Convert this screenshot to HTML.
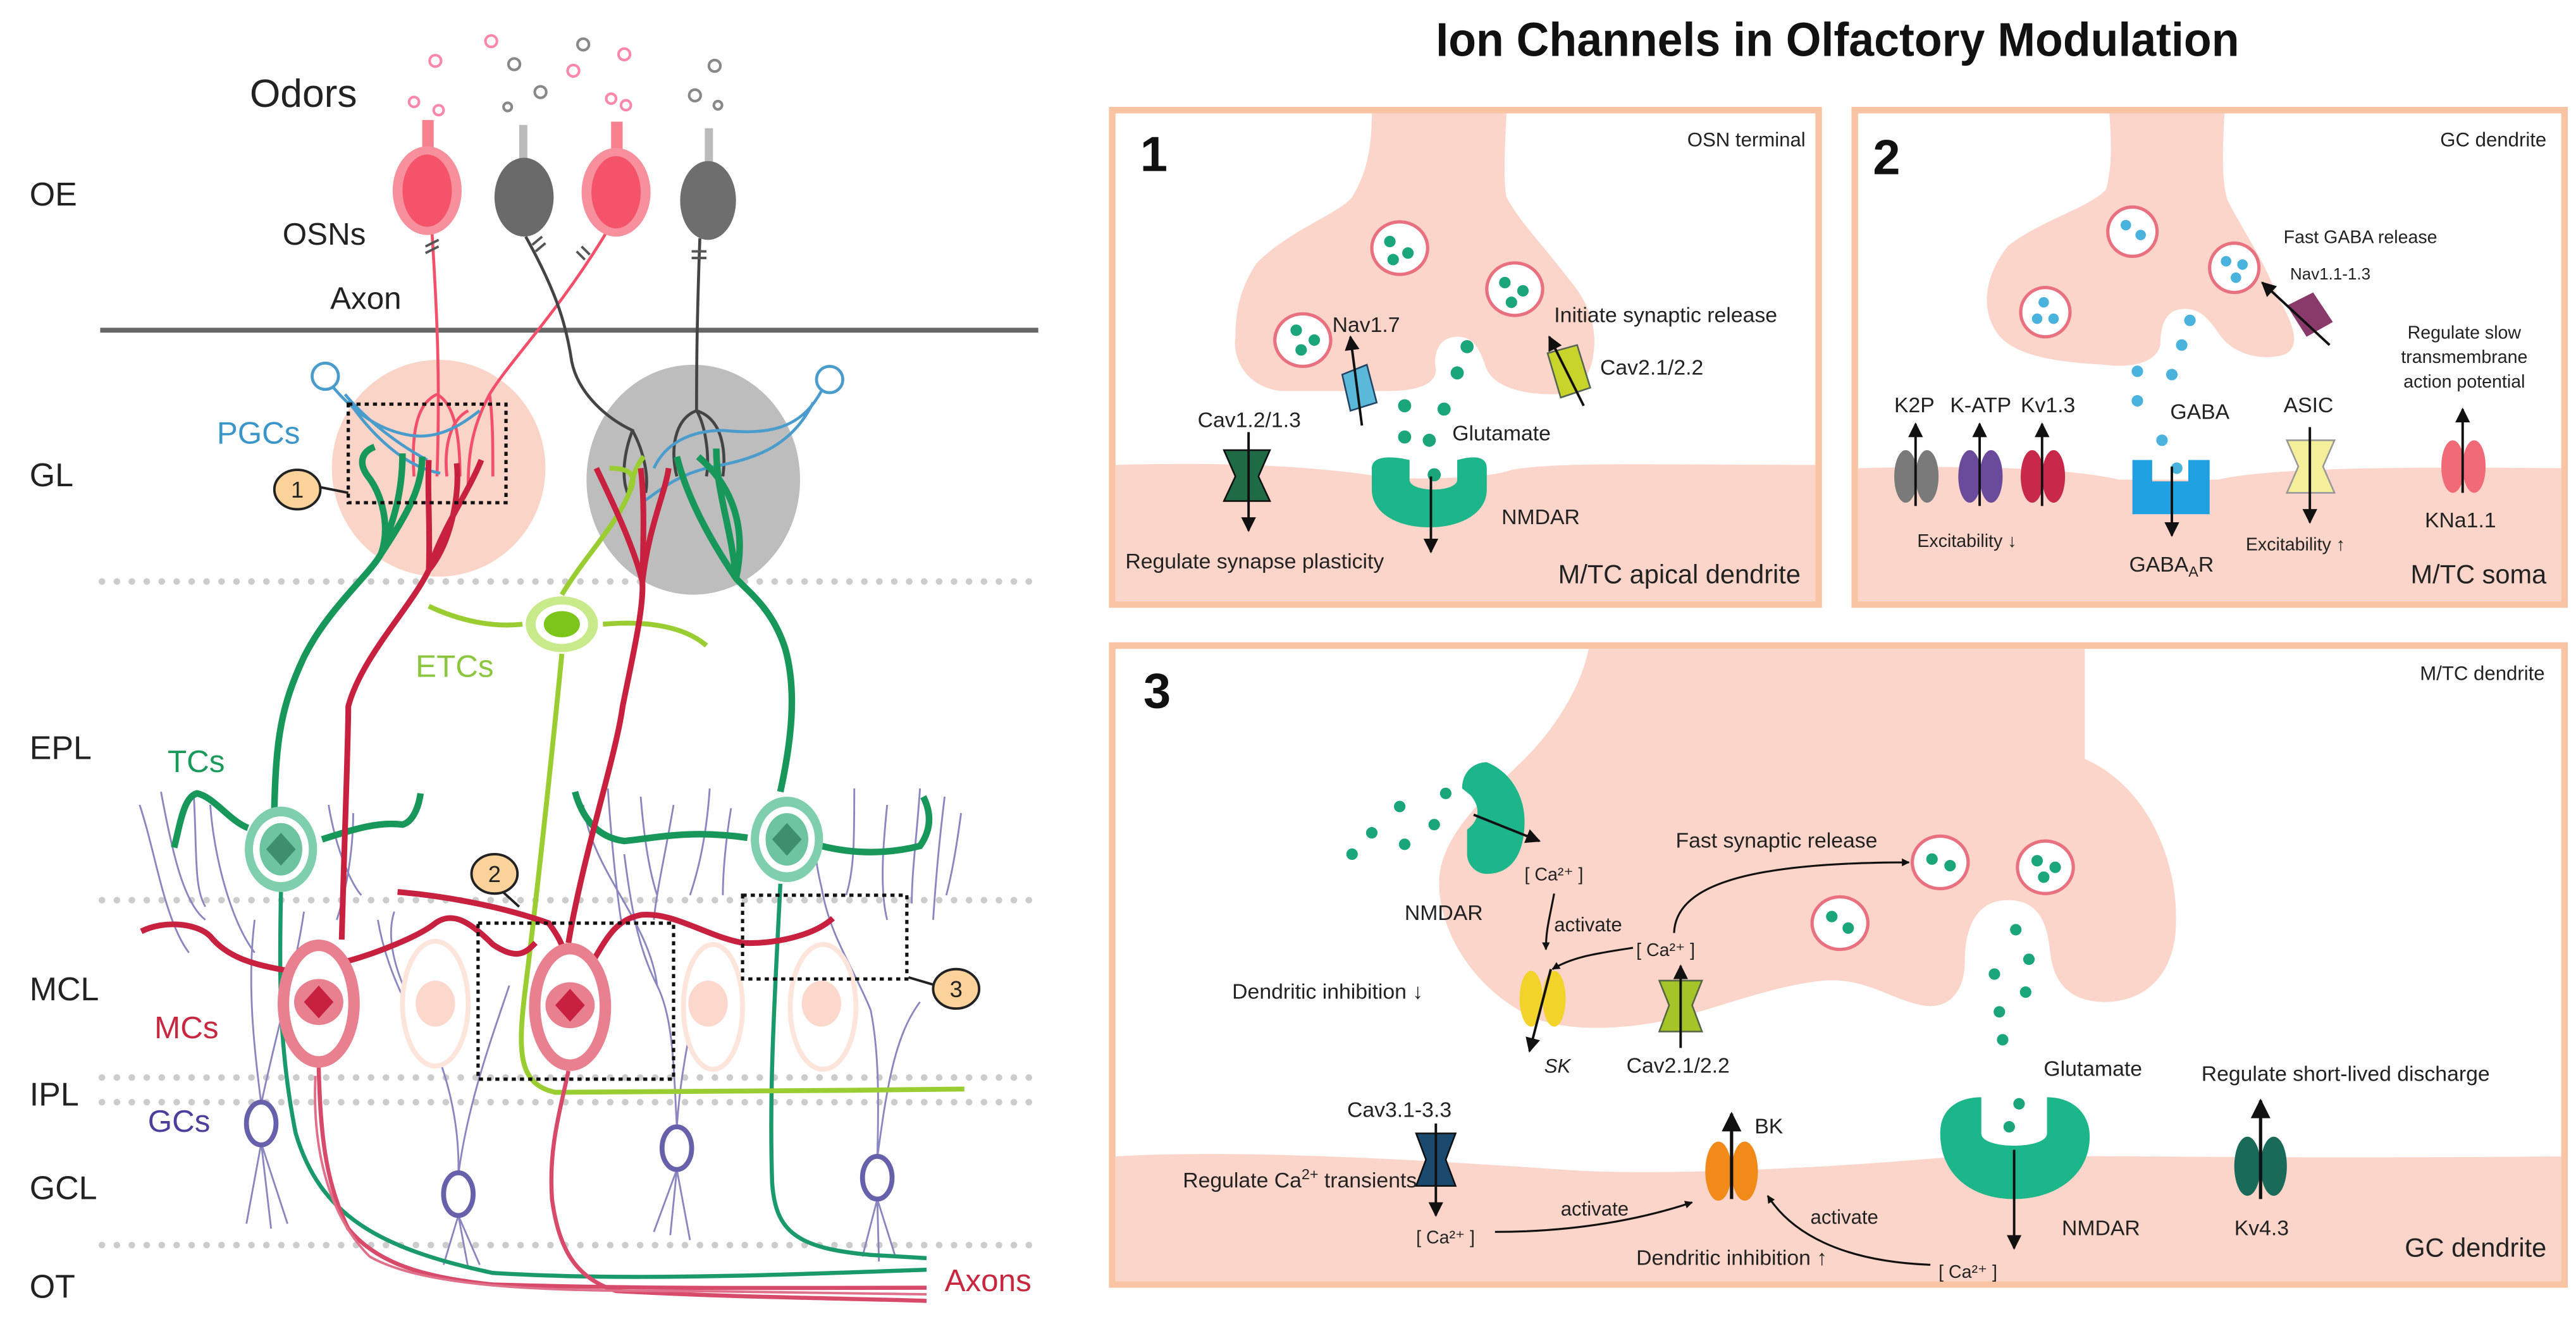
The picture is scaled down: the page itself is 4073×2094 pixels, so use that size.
<!DOCTYPE html>
<html><head><meta charset="utf-8"><style>
html,body{margin:0;padding:0;background:#fff}
svg{display:block}
text{font-family:"Liberation Sans",Arial,sans-serif}
</style></head><body>
<svg width="4073" height="2094" viewBox="0 0 1568 806" xmlns="http://www.w3.org/2000/svg">
<rect width="1568" height="806" fill="#fff"/>
<defs>
<marker id="ah" viewBox="0 0 10 10" refX="9" refY="5" markerWidth="6" markerHeight="6" orient="auto"><path d="M0,0L10,5L0,10z" fill="#111"/></marker>
<marker id="ahs" viewBox="0 0 10 10" refX="9" refY="5" markerWidth="4" markerHeight="4" orient="auto"><path d="M0,0L10,5L0,10z" fill="#111"/></marker>
</defs>

<!-- ============ LEFT DIAGRAM ============ -->
<g font-size="20" fill="#222">
<text x="18" y="125">OE</text><text x="18" y="296">GL</text><text x="18" y="462">EPL</text>
<text x="18" y="609">MCL</text><text x="18" y="673">IPL</text><text x="18" y="730">GCL</text><text x="18" y="790">OT</text>
</g>
<line x1="61" y1="201" x2="632" y2="201" stroke="#666" stroke-width="3"/>
<g stroke="#ccc" stroke-width="4" stroke-dasharray="0.1 9" stroke-linecap="round">
<line x1="62" y1="354" x2="632" y2="354"/><line x1="62" y1="548" x2="632" y2="548"/>
<line x1="62" y1="656" x2="632" y2="656"/><line x1="62" y1="671" x2="632" y2="671"/>
<line x1="62" y1="758" x2="632" y2="758"/>
</g>
<text x="152" y="65" font-size="24" fill="#222">Odors</text>
<text x="172" y="149" font-size="19" fill="#222">OSNs</text>
<text x="201" y="188" font-size="19" fill="#222">Axon</text>
<g fill="none" stroke-width="1.6">
<circle cx="265" cy="37" r="3.5" stroke="#f8a"/><circle cx="299" cy="25" r="3.5" stroke="#f8a"/><circle cx="313" cy="39" r="3.5" stroke="#888"/>
<circle cx="355" cy="27" r="3.5" stroke="#888"/><circle cx="380" cy="33" r="3.5" stroke="#f8a"/><circle cx="349" cy="43" r="3.5" stroke="#f8a"/>
<circle cx="329" cy="56" r="3.5" stroke="#888"/><circle cx="435" cy="40" r="3.5" stroke="#888"/><circle cx="423" cy="58" r="3.5" stroke="#888"/>
<circle cx="252" cy="62" r="3" stroke="#f8a"/><circle cx="267" cy="67" r="3" stroke="#f8a"/><circle cx="309" cy="65" r="2.5" stroke="#888"/>
<circle cx="372" cy="60" r="3" stroke="#f8a"/><circle cx="381" cy="64" r="3" stroke="#f8a"/><circle cx="437" cy="64" r="2.5" stroke="#888"/>
</g>
<ellipse cx="267" cy="285" rx="65" ry="66" fill="#fbd4c8"/>
<ellipse cx="422" cy="292" rx="65" ry="70" fill="#bdbdbd"/>
<g fill="none" stroke-width="1.8">
<path d="M263,142 C266,190 268,230 266,290 M266,240 C255,245 250,260 252,290 M266,240 C275,245 280,260 280,290" stroke="#f2506a"/>
<path d="M370,140 C340,190 310,220 298,240 C290,255 285,270 285,295 M298,240 C300,255 300,270 300,290 M285,250 C275,255 270,270 272,290" stroke="#f2506a"/>
<path d="M320,144 C340,180 345,200 348,220 C352,240 370,255 385,262 C380,275 378,290 382,300 M385,262 C392,275 395,290 393,300" stroke="#444"/>
<path d="M426,145 C424,200 424,230 424,250 C410,255 408,275 412,290 M424,250 C430,260 432,280 430,290 M424,250 C440,255 442,275 440,290" stroke="#444"/>
</g>
<g>
<rect x="257" y="73" width="7" height="20" fill="#f7808f"/>
<ellipse cx="260" cy="116" rx="21" ry="27" fill="#f7909c"/><ellipse cx="260" cy="116" rx="15" ry="22" fill="#f4536a"/>
<rect x="316" y="76" width="5" height="22" fill="#bbb"/>
<ellipse cx="319" cy="120" rx="18" ry="24" fill="#6a6a6a"/>
<rect x="372" y="74" width="7" height="20" fill="#f7808f"/>
<ellipse cx="375" cy="117" rx="21" ry="27" fill="#f7909c"/><ellipse cx="375" cy="117" rx="15" ry="22" fill="#f4536a"/>
<rect x="429" y="78" width="5" height="22" fill="#bbb"/>
<ellipse cx="431" cy="122" rx="17" ry="24" fill="#6e6e6e"/>
<g stroke="#555" stroke-width="1.5"><path d="M259,150 l8,-4 M259,154 l8,-4 M324,149 l6,-5 M326,153 l6,-5 M351,153 l5,5 M354,150 l5,5 M421,153 h9 M421,157 h9"/></g>
</g>
<g fill="none" stroke="#4a9ccc" stroke-width="1.8">
<circle cx="198" cy="229" r="8"/><path d="M203,236 C215,250 230,262 250,265 C270,268 285,255 292,250 M210,240 C225,258 245,272 260,280 M212,244 C230,270 250,285 268,288"/>
<circle cx="505" cy="231" r="8"/><path d="M500,238 C488,260 470,265 440,262 C420,262 405,270 398,285 M495,245 C480,275 455,280 430,285 C410,290 400,300 392,305"/>
</g>
<text x="132" y="270" font-size="19" fill="#3a95c8">PGCs</text>
<text x="253" y="412" font-size="19" fill="#8cc63f">ETCs</text>
<text x="102" y="470" font-size="19" fill="#1a9a5a">TCs</text>
<text x="94" y="632" font-size="19" fill="#c8283f">MCs</text>
<text x="90" y="689" font-size="19" fill="#4a3f9a">GCs</text>
<text x="575" y="786" font-size="19" fill="#c8283f">Axons</text>
<g fill="none" stroke="#8a87c0" stroke-width="1.1">
<path d="M85,490 C95,520 100,560 115,580 M98,482 C105,520 112,550 125,560 M118,485 C120,520 118,540 125,552 M128,490 C130,520 140,560 155,580"/>
<path d="M159,672 C155,640 150,600 155,560 M159,672 C170,620 180,590 185,555 M200,490 C205,520 215,540 220,545 M215,495 C215,520 210,545 205,560"/>
<path d="M279,715 C280,680 270,640 250,610 C240,590 235,570 240,555 M279,715 C285,670 300,630 310,600 M230,560 C235,590 250,620 265,640"/>
<path d="M412,686 C410,650 410,620 400,600 C390,580 385,560 380,520 M412,686 C415,640 425,610 430,580 M400,600 C395,560 360,530 355,490 M370,480 C372,510 375,540 378,560 M390,485 C392,510 395,530 400,545 M410,490 C405,520 400,540 398,560 M432,480 C430,510 425,530 420,545 M445,492 C442,510 440,530 440,545"/>
<path d="M534,705 C535,670 535,640 530,615 C520,590 505,570 500,540 M534,705 C540,660 545,630 560,610 M500,540 C495,520 495,500 490,490 M520,480 C520,510 520,530 515,545 M540,490 C538,510 535,540 540,560 M560,480 C558,510 555,530 555,550 M575,485 C572,510 570,530 568,560 M585,495 C583,510 580,530 576,545"/>
<path d="M159,696 L150,745 M159,696 L165,748 M159,696 L175,745 M279,740 L270,770 M279,740 L285,772 M279,740 L292,770 M412,712 L398,750 M412,712 L408,752 M412,712 L420,755 M534,730 L525,765 M534,730 L535,768 M534,730 L545,765"/>
</g>
<g fill="#fff" stroke="#6661aa" stroke-width="3">
<ellipse cx="159" cy="684" rx="9" ry="13"/><ellipse cx="279" cy="727" rx="9" ry="13"/><ellipse cx="412" cy="699" rx="9" ry="13"/><ellipse cx="534" cy="717" rx="9" ry="13"/>
</g>
<g fill="#fff" stroke="#fde5dc" stroke-width="3">
<ellipse cx="265" cy="611" rx="20" ry="38"/><ellipse cx="434" cy="613" rx="18" ry="38"/><ellipse cx="501" cy="613" rx="20" ry="38"/>
</g>
<g fill="#fcd8cc"><ellipse cx="265" cy="611" rx="12" ry="14"/><ellipse cx="431" cy="611" rx="12" ry="14"/><ellipse cx="500" cy="611" rx="12" ry="14"/></g>
<g fill="none" stroke="#18975a" stroke-width="4">
<path d="M167,492 C168,450 171,430 185,400 C200,370 225,350 232,337 C238,320 232,300 224,290 C218,282 220,275 228,272 M232,337 C240,315 245,300 245,276 M232,337 C250,310 257,295 257,278"/>
<path d="M106,516 C110,500 112,485 120,483 C130,485 140,500 151,504 M196,511 C215,505 230,500 245,502 C252,500 255,490 256,483"/>
<path d="M475,482 C482,450 485,420 478,395 C470,370 455,360 448,352 C440,340 420,310 412,278 M448,352 C445,320 436,300 436,273 M448,352 C455,320 445,295 425,278"/>
<path d="M350,482 C355,500 365,510 380,512 C400,510 420,505 455,510 M500,515 C520,520 540,520 560,515 C567,505 567,495 562,485"/>
<path d="M171,543 C170,600 170,640 180,690 C195,740 230,760 300,775 C380,780 480,776 564,773" stroke-width="2.5" stroke="#1a9a6a"/>
<path d="M475,538 C472,600 468,660 470,720 C472,750 485,760 530,764 L564,766" stroke-width="2.5" stroke="#1a9a6a"/>
</g>
<g>
<ellipse cx="171" cy="517" rx="22" ry="26" fill="#7fcfae"/><ellipse cx="171" cy="517" rx="17" ry="20" fill="#fff"/>
<ellipse cx="171" cy="517" rx="13" ry="16" fill="#6cc4a0"/><path d="M171,507 L180,517 L171,527 L162,517Z" fill="#3e8f6e"/>
<ellipse cx="479" cy="511" rx="22" ry="26" fill="#7fcfae"/><ellipse cx="479" cy="511" rx="17" ry="20" fill="#fff"/>
<ellipse cx="479" cy="511" rx="13" ry="16" fill="#6cc4a0"/><path d="M479,501 L488,511 L479,521 L470,511Z" fill="#3e8f6e"/>
</g>
<g fill="none" stroke="#9acd32" stroke-width="3">
<path d="M261,369 C280,378 300,382 318,380 M367,380 C390,378 415,380 430,393"/>
<path d="M342,398 C335,470 325,560 320,600 C315,640 315,660 338,665 C400,665 500,664 587,663"/>
<path d="M342,362 C355,340 375,320 383,300 C388,290 385,285 371,285 M383,300 C385,290 388,282 392,278"/>
</g>
<ellipse cx="342" cy="380" rx="22" ry="17" fill="#c8ea8a"/><ellipse cx="342" cy="380" rx="16" ry="12" fill="#fff"/>
<ellipse cx="342" cy="380" rx="11" ry="8" fill="#7cc51a"/>
<g fill="none" stroke="#c8203f" stroke-width="3.5">
<path d="M208,572 C210,500 212,450 212,430 C220,400 250,370 261,347 C262,320 260,300 261,280 M261,347 C270,320 285,300 293,280 M261,347 C275,330 280,300 278,282"/>
<path d="M346,574 C355,520 375,460 379,430 C385,400 392,370 391,354 C385,330 370,300 363,285 M391,354 C395,320 405,300 407,285 M391,354 C392,320 392,300 390,285"/>
<path d="M86,567 C100,560 120,562 128,570 C140,585 160,588 175,591"/>
<path d="M212,585 C230,580 255,570 265,562 C275,555 285,560 300,575 C315,585 320,580 326,574"/>
<path d="M242,543 C265,545 300,550 334,562 C340,570 342,575 343,578"/>
<path d="M361,585 C370,570 375,560 390,557 C410,555 430,570 452,574 C470,575 495,570 507,559"/>
<path d="M194,650 C195,690 198,720 212,748 C230,770 260,778 300,782 C400,785 480,784 564,784" stroke="#d84a6a" stroke-width="2.5"/>
<path d="M346,652 C340,680 334,700 336,730 C340,760 350,778 375,786 C450,790 500,790 564,792" stroke="#d84a6a" stroke-width="2.5"/>
<path d="M192,655 C190,700 200,740 225,765 C260,785 340,786 420,786 L564,788" stroke="#e0708a" stroke-width="1.5"/>
</g>
<g>
<ellipse cx="194" cy="611" rx="25" ry="39" fill="#e8808f"/><ellipse cx="194" cy="611" rx="18" ry="32" fill="#fff"/>
<ellipse cx="194" cy="610" rx="15" ry="14" fill="#e8808f"/><path d="M194,600 L203,610 L194,620 L185,610Z" fill="#c8203f"/>
<ellipse cx="347" cy="613" rx="25" ry="39" fill="#e8808f"/><ellipse cx="347" cy="613" rx="18" ry="32" fill="#fff"/>
<ellipse cx="347" cy="612" rx="15" ry="14" fill="#e8808f"/><path d="M347,602 L356,612 L347,622 L338,612Z" fill="#c8203f"/>
</g>
<g fill="none" stroke="#111" stroke-width="2" stroke-dasharray="2.5 2.5">
<rect x="212" y="246" width="96" height="60"/>
<rect x="291" y="562" width="119" height="95"/>
<rect x="452" y="545" width="100" height="51"/>
</g>
<g font-size="14" text-anchor="middle" fill="#222">
<path d="M192,296 L212,300" stroke="#222" stroke-width="1.5"/>
<ellipse cx="181" cy="298" rx="14" ry="12" fill="#fbd39a" stroke="#222" stroke-width="1.5"/><text x="181" y="303">1</text>
<path d="M305,542 L316,552" stroke="#222" stroke-width="1.5"/>
<ellipse cx="301" cy="532" rx="14" ry="12" fill="#fbd39a" stroke="#222" stroke-width="1.5"/><text x="301" y="537">2</text>
<path d="M553,595 L570,600" stroke="#222" stroke-width="1.5"/>
<ellipse cx="582" cy="602" rx="14" ry="12" fill="#fbd39a" stroke="#222" stroke-width="1.5"/><text x="582" y="607">3</text>
</g>

<text x="874" y="34" font-size="29" font-weight="bold" fill="#111" textLength="489" lengthAdjust="spacingAndGlyphs">Ion Channels in Olfactory Modulation</text>

<!-- ============ PANEL 1 ============ -->
<rect x="677" y="67" width="430" height="301" fill="#fff" stroke="#f8c4a4" stroke-width="4"/>
<path d="M679,283 C750,281 800,284 840,290 C850,292 905,292 920,286 C950,281 1000,283 1105,283 L1105,366 L679,366Z" fill="#fbd5c9"/>
<path d="M835,69 L917,69 C916,90 915,110 917,120 C925,135 940,150 955,170 C968,185 972,200 970,215 C968,232 958,240 945,240 C925,240 910,235 905,225 C900,210 896,205 887,205 C878,205 872,212 874,225 C874,235 860,238 845,238 L780,238 C760,236 750,220 752,205 C752,185 757,172 765,160 C785,140 815,130 823,120 C832,105 835,90 835,69Z" fill="#fbd5c9"/>
<text x="694" y="104" font-size="30" font-weight="bold" fill="#111">1</text>
<text x="1099" y="89" font-size="12" text-anchor="end" fill="#222">OSN terminal</text>
<g fill="#fff" stroke="#e8707f" stroke-width="2"><ellipse cx="852" cy="151" rx="17" ry="16"/><ellipse cx="922" cy="176" rx="17" ry="16"/><ellipse cx="793" cy="207" rx="17" ry="16"/></g>
<g fill="#1aa67a"><circle cx="846" cy="147" r="3.5"/><circle cx="857" cy="154" r="3.5"/><circle cx="848" cy="158" r="3.5"/>
<circle cx="916" cy="172" r="3.5"/><circle cx="927" cy="177" r="3.5"/><circle cx="920" cy="184" r="3.5"/>
<circle cx="789" cy="201" r="3.5"/><circle cx="800" cy="207" r="3.5"/><circle cx="792" cy="213" r="3.5"/>
<circle cx="893" cy="211" r="4"/><circle cx="887" cy="227" r="4"/><circle cx="855" cy="247" r="4"/><circle cx="879" cy="249" r="4"/><circle cx="855" cy="266" r="4"/><circle cx="870" cy="268" r="4"/><circle cx="873" cy="289" r="4"/></g>
<path d="M835,285 C835,278 845,277 858,280 L858,292 C858,300 887,300 887,292 L887,280 C898,277 905,278 905,285 L905,298 C905,312 890,321 870,321 C850,321 835,312 835,298Z" fill="#1db58a"/>
<line x1="871" y1="290" x2="871" y2="336" stroke="#111" stroke-width="1.5" marker-end="url(#ah)"/>
<text x="884" y="268" font-size="13" fill="#222">Glutamate</text>
<text x="914" y="319" font-size="13" fill="#222">NMDAR</text>
<path d="M745,274 L773,274 L766,290 L773,305 L745,305 L752,290Z" fill="#1f6b45" stroke="#111" stroke-width="1"/>
<line x1="760" y1="263" x2="760" y2="323" stroke="#111" stroke-width="1.5" marker-end="url(#ah)"/>
<text x="729" y="260" font-size="13" fill="#222">Cav1.2/1.3</text>
<text x="685" y="346" font-size="13" fill="#222">Regulate synapse plasticity</text>
<path d="M817,228 L832,222 L838,245 L822,250Z" fill="#5ab8d8" stroke="#246" stroke-width="1"/>
<line x1="829" y1="259" x2="822" y2="205" stroke="#111" stroke-width="1.5" marker-end="url(#ah)"/>
<text x="811" y="202" font-size="13" fill="#222">Nav1.7</text>
<path d="M942,215 L960,210 L968,236 L950,242Z" fill="#c9d42a" stroke="#565" stroke-width="1"/>
<line x1="964" y1="247" x2="943" y2="205" stroke="#111" stroke-width="1.5" marker-end="url(#ah)"/>
<text x="946" y="196" font-size="13" fill="#222">Initiate synaptic release</text>
<text x="974" y="228" font-size="13" fill="#222">Cav2.1/2.2</text>
<text x="1096" y="355" font-size="16" text-anchor="end" fill="#222">M/TC apical dendrite</text>

<!-- ============ PANEL 2 ============ -->
<rect x="1129" y="67" width="432" height="301" fill="#fff" stroke="#f8c4a4" stroke-width="4"/>
<path d="M1131,285 C1200,283 1260,285 1290,292 L1350,292 C1380,285 1450,284 1559,285 L1559,366 L1131,366Z" fill="#fbd5c9"/>
<path d="M1284,69 L1354,69 C1353,90 1352,110 1356,122 C1365,140 1378,158 1386,180 C1398,200 1400,212 1390,216 C1375,220 1360,215 1352,205 C1345,195 1340,188 1330,188 C1318,188 1315,198 1315,210 C1312,222 1295,224 1281,222 C1245,220 1222,215 1214,200 C1205,185 1210,165 1222,150 C1240,135 1275,125 1282,115 C1286,100 1285,85 1284,69Z" fill="#fbd5c9"/>
<text x="1140" y="106" font-size="30" font-weight="bold" fill="#111">2</text>
<text x="1550" y="89" font-size="12" text-anchor="end" fill="#222">GC dendrite</text>
<g fill="#fff" stroke="#e8707f" stroke-width="2"><ellipse cx="1298" cy="141" rx="15" ry="15"/><ellipse cx="1360" cy="163" rx="15" ry="15"/><ellipse cx="1245" cy="190" rx="15" ry="15"/></g>
<g fill="#4ab3dd"><circle cx="1294" cy="137" r="3.2"/><circle cx="1303" cy="143" r="3.2"/><circle cx="1355" cy="159" r="3.2"/><circle cx="1365" cy="161" r="3.2"/><circle cx="1361" cy="169" r="3.2"/>
<circle cx="1244" cy="184" r="3.2"/><circle cx="1240" cy="194" r="3.2"/><circle cx="1250" cy="194" r="3.2"/>
<circle cx="1333" cy="195" r="3.5"/><circle cx="1328" cy="210" r="3.5"/><circle cx="1301" cy="226" r="3.5"/><circle cx="1322" cy="228" r="3.5"/><circle cx="1301" cy="244" r="3.5"/><circle cx="1316" cy="268" r="3.5"/><circle cx="1325" cy="285" r="3.5"/></g>
<text x="1390" y="148" font-size="11" fill="#222">Fast GABA release</text>
<text x="1394" y="170" font-size="10" fill="#222">Nav1.1-1.3</text>
<path d="M1392,186 L1408,178 L1420,196 L1404,205Z" fill="#8a3a6a"/>
<line x1="1418" y1="210" x2="1377" y2="172" stroke="#111" stroke-width="1.5" marker-end="url(#ah)"/>
<text x="1500" y="206" font-size="11" text-anchor="middle" fill="#222">Regulate slow</text>
<text x="1500" y="221" font-size="11" text-anchor="middle" fill="#222">transmembrane</text>
<text x="1500" y="236" font-size="11" text-anchor="middle" fill="#222">action potential</text>
<g>
<ellipse cx="1160" cy="290" rx="7" ry="16" fill="#7a7a7a"/><ellipse cx="1173" cy="290" rx="7" ry="16" fill="#7a7a7a"/>
<line x1="1166" y1="308" x2="1166" y2="258" stroke="#111" stroke-width="1.5" marker-end="url(#ah)"/>
<ellipse cx="1199" cy="290" rx="7" ry="16" fill="#6a4a9a"/><ellipse cx="1212" cy="290" rx="7" ry="16" fill="#6a4a9a"/>
<line x1="1205" y1="308" x2="1205" y2="258" stroke="#111" stroke-width="1.5" marker-end="url(#ah)"/>
<ellipse cx="1237" cy="290" rx="7" ry="16" fill="#c8284a"/><ellipse cx="1250" cy="290" rx="7" ry="16" fill="#c8284a"/>
<line x1="1243" y1="308" x2="1243" y2="258" stroke="#111" stroke-width="1.5" marker-end="url(#ah)"/>
<path d="M1298,280 L1310,280 L1310,293 L1332,293 L1332,280 L1345,280 L1345,313 L1298,313Z" fill="#1fa0e0"/>
<line x1="1322" y1="284" x2="1322" y2="326" stroke="#111" stroke-width="1.5" marker-end="url(#ah)"/>
<path d="M1392,268 L1421,268 L1414,284 L1421,300 L1392,300 L1399,284Z" fill="#f6ef9a" stroke="#999" stroke-width="1"/>
<line x1="1406" y1="260" x2="1406" y2="318" stroke="#111" stroke-width="1.5" marker-end="url(#ah)"/>
<ellipse cx="1493" cy="284" rx="7" ry="16" fill="#f06a78"/><ellipse cx="1506" cy="284" rx="7" ry="16" fill="#f06a78"/>
<line x1="1499" y1="300" x2="1499" y2="249" stroke="#111" stroke-width="1.5" marker-end="url(#ah)"/>
</g>
<g font-size="13" fill="#222">
<text x="1153" y="251">K2P</text><text x="1187" y="251">K-ATP</text><text x="1230" y="251">Kv1.3</text>
<text x="1321" y="255">GABA</text><text x="1390" y="251">ASIC</text>
<text x="1167" y="333" font-size="11">Excitability ↓</text><text x="1367" y="335" font-size="11">Excitability ↑</text>
<text x="1296" y="348">GABA<tspan font-size="9" dy="3">A</tspan><tspan dy="-3">R</tspan></text>
<text x="1476" y="321">KNa1.1</text>
<text x="1550" y="355" font-size="16" text-anchor="end">M/TC soma</text>
</g>

<!-- ============ PANEL 3 ============ -->
<rect x="677" y="393" width="884" height="389" fill="#fff" stroke="#f8c4a4" stroke-width="4"/>
<path d="M679,704 C750,700 850,705 950,712 C1000,716 1100,712 1180,705 C1250,702 1350,706 1559,704 L1559,780 L679,780Z" fill="#fbd5c9"/>
<path d="M967,395 L1269,395 L1269,462 C1310,480 1328,530 1324,570 C1320,600 1300,610 1281,610 C1262,610 1250,600 1248,580 C1246,560 1240,548 1222,548 C1203,548 1196,565 1196,585 C1196,605 1185,615 1170,612 C1150,608 1135,595 1110,597 C1080,600 1050,612 1020,620 C985,628 950,628 930,618 C895,600 875,565 876,535 C878,505 910,480 928,462 C945,445 962,420 967,395Z" fill="#fbd5c9"/>
<text x="696" y="431" font-size="30" font-weight="bold" fill="#111">3</text>
<text x="1549" y="414" font-size="12" text-anchor="end" fill="#222">M/TC dendrite</text>
<path d="M905,464 C920,470 928,485 928,500 C928,520 920,532 905,532 C898,532 893,526 893,520 L893,505 C900,500 902,492 895,484 L890,480 C890,470 897,464 905,464Z" fill="#1db58a"/>
<line x1="897" y1="496" x2="937" y2="512" stroke="#111" stroke-width="1.5" marker-end="url(#ah)"/>
<g fill="#1aa67a"><circle cx="823" cy="520" r="3.5"/><circle cx="835" cy="507" r="3.5"/><circle cx="852" cy="491" r="3.5"/><circle cx="855" cy="514" r="3.5"/><circle cx="873" cy="502" r="3.5"/><circle cx="880" cy="483" r="3.5"/></g>
<text x="855" y="560" font-size="13" fill="#222">NMDAR</text>
<text x="928" y="536" font-size="11" fill="#222">[ Ca²⁺ ]</text>
<path d="M946,544 C943,560 941,566 941,578" fill="none" stroke="#111" stroke-width="1.2" marker-end="url(#ahs)"/>
<text x="946" y="567" font-size="12" fill="#222">activate</text>
<text x="996" y="582" font-size="11" fill="#222">[ Ca²⁺ ]</text>
<path d="M994,577 C975,580 958,582 945,590" fill="none" stroke="#111" stroke-width="1.2" marker-end="url(#ahs)"/>
<path d="M1019,568 C1020,540 1060,525 1162,525" fill="none" stroke="#111" stroke-width="1.2" marker-end="url(#ahs)"/>
<text x="1020" y="516" font-size="13" fill="#222">Fast synaptic release</text>
<text x="750" y="608" font-size="13" fill="#222">Dendritic inhibition ↓</text>
<ellipse cx="932" cy="608" rx="7" ry="17" fill="#f2d32a"/><ellipse cx="946" cy="608" rx="7" ry="17" fill="#f2d32a"/>
<line x1="944" y1="590" x2="931" y2="640" stroke="#111" stroke-width="1.5" marker-end="url(#ah)"/>
<text x="940" y="653" font-size="12" font-style="italic" fill="#222">SK</text>
<path d="M1010,597 L1036,597 L1030,612 L1036,628 L1010,628 L1016,612Z" fill="#a4c428" stroke="#564" stroke-width="1"/>
<line x1="1023" y1="638" x2="1023" y2="588" stroke="#111" stroke-width="1.5" marker-end="url(#ah)"/>
<text x="990" y="653" font-size="13" fill="#222">Cav2.1/2.2</text>
<g fill="#fff" stroke="#e8707f" stroke-width="2"><ellipse cx="1181" cy="525" rx="17" ry="16"/><ellipse cx="1245" cy="528" rx="17" ry="16"/><ellipse cx="1120" cy="562" rx="17" ry="16"/></g>
<g fill="#1aa67a"><circle cx="1176" cy="523" r="3.5"/><circle cx="1187" cy="527" r="3.5"/><circle cx="1240" cy="524" r="3.5"/><circle cx="1251" cy="528" r="3.5"/><circle cx="1244" cy="534" r="3.5"/><circle cx="1115" cy="558" r="3.5"/><circle cx="1125" cy="565" r="3.5"/>
<circle cx="1227" cy="566" r="3.5"/><circle cx="1235" cy="584" r="3.5"/><circle cx="1214" cy="593" r="3.5"/><circle cx="1233" cy="604" r="3.5"/><circle cx="1217" cy="616" r="3.5"/><circle cx="1219" cy="633" r="3.5"/></g>
<path d="M1181,690 C1181,675 1192,668 1206,668 L1206,690 C1206,700 1246,700 1246,690 L1246,668 C1262,668 1272,678 1272,692 C1272,715 1252,730 1226,730 C1200,730 1181,715 1181,690Z" fill="#1db58a"/>
<g fill="#1aa67a"><circle cx="1229" cy="672" r="3.5"/><circle cx="1223" cy="686" r="3.5"/></g>
<line x1="1226" y1="700" x2="1226" y2="760" stroke="#111" stroke-width="1.5" marker-end="url(#ah)"/>
<text x="1244" y="655" font-size="13" fill="#222">Glutamate</text>
<text x="1255" y="752" font-size="13" fill="#222">NMDAR</text>
<text x="1180" y="778" font-size="11" fill="#222">[ Ca²⁺ ]</text>
<path d="M1175,770 C1120,768 1090,750 1076,728" fill="none" stroke="#111" stroke-width="1.2" marker-end="url(#ahs)"/>
<text x="1102" y="745" font-size="12" fill="#222">activate</text>
<path d="M862,690 L886,690 L880,706 L886,722 L862,722 L868,706Z" fill="#1c4a6e" stroke="#111" stroke-width="1"/>
<line x1="874" y1="684" x2="874" y2="740" stroke="#111" stroke-width="1.5" marker-end="url(#ah)"/>
<text x="820" y="680" font-size="13" fill="#222">Cav3.1-3.3</text>
<text x="720" y="723" font-size="13" fill="#222">Regulate Ca<tspan font-size="9" dy="-5">2+</tspan><tspan dy="5"> transients</tspan></text>
<text x="862" y="757" font-size="11" fill="#222">[ Ca²⁺ ]</text>
<path d="M910,750 C960,750 1000,742 1030,732" fill="none" stroke="#111" stroke-width="1.2" marker-end="url(#ahs)"/>
<text x="950" y="740" font-size="12" fill="#222">activate</text>
<ellipse cx="1046" cy="713" rx="8" ry="18" fill="#f28a1a"/><ellipse cx="1062" cy="713" rx="8" ry="18" fill="#f28a1a"/>
<line x1="1054" y1="730" x2="1054" y2="678" stroke="#111" stroke-width="2" marker-end="url(#ah)"/>
<text x="1068" y="690" font-size="13" fill="#222">BK</text>
<text x="996" y="770" font-size="13" fill="#222">Dendritic inhibition ↑</text>
<ellipse cx="1368" cy="710" rx="8" ry="18" fill="#1a6a5a"/><ellipse cx="1384" cy="710" rx="8" ry="18" fill="#1a6a5a"/>
<line x1="1376" y1="730" x2="1376" y2="670" stroke="#111" stroke-width="2" marker-end="url(#ah)"/>
<text x="1340" y="658" font-size="13" fill="#222">Regulate short-lived discharge</text>
<text x="1360" y="752" font-size="13" fill="#222">Kv4.3</text>
<text x="1550" y="765" font-size="16" text-anchor="end" fill="#222">GC dendrite</text>
</svg>
</body></html>
